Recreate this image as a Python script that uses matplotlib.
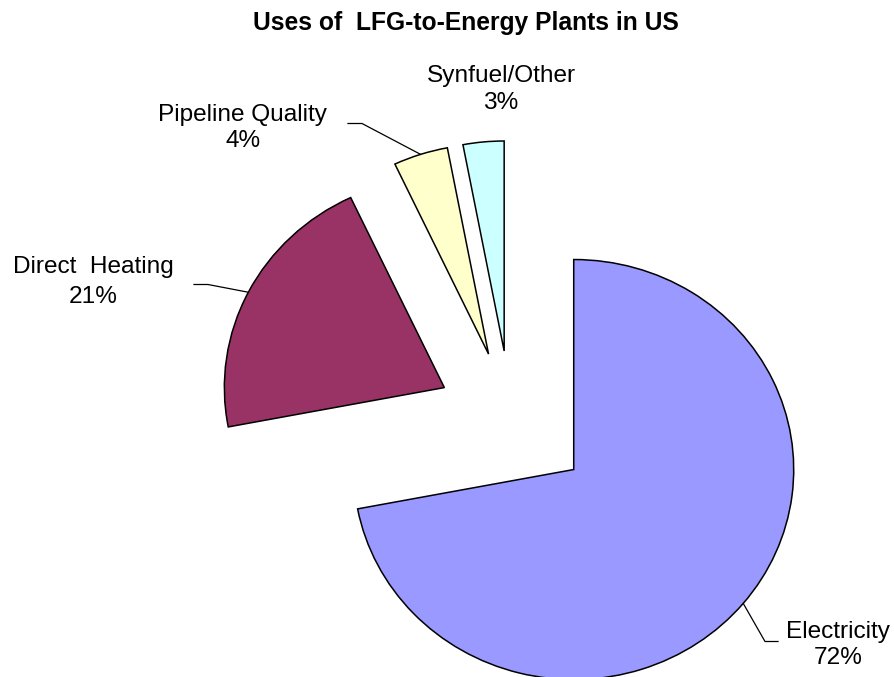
import matplotlib
matplotlib.use("Agg")
import matplotlib.pyplot as plt
import numpy as np
from matplotlib.transforms import Affine2D

# Data
categories = ["Electricity", "Direct Heating", "Pipeline Quality", "Synfuel/Other"]
shares = [72, 21, 4, 3]
explode = [0.37, 0.34, 0.33, 0.33]
colors = ["#9999FF", "#993366", "#FFFFCC", "#CCFFFF"]
title = "Uses of  LFG-to-Energy Plants in US"

W, H = 894, 677
plt.rcParams["font.family"] = ["Liberation Sans", "DejaVu Sans"]

fig = plt.figure(figsize=(W / 100, H / 100), dpi=100)
ax = fig.add_axes([0, 0, 1, 1])

wedges, _ = ax.pie(shares, explode=explode, colors=colors, startangle=90,
                   counterclock=False,
                   wedgeprops=dict(edgecolor="black", linewidth=1.1))

# Slightly flattened pie: 220 px per unit across, 210 px per unit down
cx, cy = 511, 420
rx, ry = 220, 210
ax.set_aspect("auto")
ax.set_xlim(-cx / rx, (W - cx) / rx)
ax.set_ylim(-(H - cy) / ry, cy / ry)
ax.axis("off")

# pixel coordinates measured from the top-left corner
tpx = Affine2D().scale(1, -1).translate(0, H)


def to_data(x, y):
    return ax.transData.inverted().transform(tpx.transform((x, y)))


def mid_arc(w):
    a = np.deg2rad((w.theta1 + w.theta2) / 2)
    c = np.asarray(w.center)
    return c + w.r * np.array([np.cos(a), np.sin(a)])


# label layout: (name baseline, pct baseline, centre x), leader elbow and end
labels = {
    "Electricity": dict(x=838, y1=638, y2=664, elbow=(765, 641.5), end=(778, 641.5)),
    "Direct Heating": dict(x=93, y1=273, y2=303, elbow=(208, 284.5), end=(194, 284.5)),
    "Pipeline Quality": dict(x=243, y1=121, y2=147, elbow=(362, 123.5), end=(348, 123.5)),
    "Synfuel/Other": dict(x=501, y1=82, y2=109, elbow=None, end=None),
}

for w, name, val in zip(wedges, categories, shares):
    lay = labels[name]
    ax.text(lay["x"], lay["y1"], name.replace("Direct Heating", "Direct  Heating"),
            transform=tpx, ha="center", va="baseline", fontsize=17.6)
    ax.text(lay["x"], lay["y2"], f"{val}%", transform=tpx,
            ha="center", va="baseline", fontsize=17.6)
    if lay["elbow"] is not None:
        p0 = mid_arc(w)
        p1 = to_data(*lay["elbow"])
        p2 = to_data(*lay["end"])
        ax.plot([p0[0], p1[0], p2[0]], [p0[1], p1[1], p2[1]],
                color="black", linewidth=0.9, clip_on=False)

ax.text(466, 30, title, transform=tpx, ha="center", va="baseline",
        fontsize=17.7, fontweight="bold")

fig.savefig("out.png", dpi=100)
